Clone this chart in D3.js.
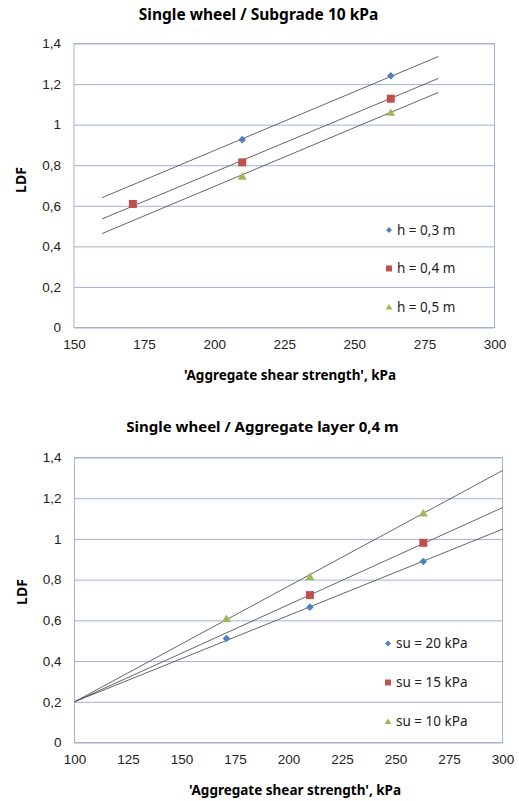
<!DOCTYPE html>
<html>
<head>
<meta charset="utf-8">
<script src="https://cdn.jsdelivr.net/npm/d3@7"></script>
<style>
  body { margin: 0; background: #fff; }
  svg { display: block; font-family: "Noto Sans", "Open Sans", sans-serif; }
</style>
</head>
<body>
<svg id="chart" width="519" height="801"></svg>
<script>
// top chart: single wheel, subgrade 10 kPa
const xTicksTop = [150, 175, 200, 225, 250, 275, 300];
const h03 = [[210, 0.926], [263, 1.241]];
const h04 = [[171, 0.609], [210, 0.814], [263, 1.128]];
const h05 = [[210, 0.745], [263, 1.06]];
const h03Trend = [[160, 0.64], [280, 1.336]];
const h04Trend = [[160, 0.535], [280, 1.228]];
const h05Trend = [[160, 0.463], [280, 1.159]];

// bottom chart: single wheel, aggregate layer 0,4 m
const xTicksBottom = [100, 125, 150, 175, 200, 225, 250, 275, 300];
const su20 = [[171, 0.511], [210, 0.665], [263, 0.889]];
const su15 = [[210, 0.724], [263, 0.981]];
const su10 = [[171, 0.609], [210, 0.815], [263, 1.127]];
const su20Trend = [[100, 0.2], [300, 1.048]];
const su15Trend = [[100, 0.2], [300, 1.154]];
const su10Trend = [[100, 0.2], [300, 1.336]];

const yTicks = [0, 0.2, 0.4, 0.6, 0.8, 1, 1.2, 1.4];

const blue = '#4F81BD', red = '#C0504D', green = '#9BBB59';
const gridColor = '#A3B3D1';

const fmt = d => String(+d.toFixed(1)).replace('.', ',');

function marker(shape, s) {
    if (shape === 'diamond') return `M0,${-s}L${s},0L0,${s}L${-s},0Z`;
    if (shape === 'square') return `M${-s},${-s}H${s}V${s}H${-s}Z`;
    return `M0,${-s}L${s * 1.15},${s * 0.85}H${-s * 1.15}Z`;
}

const svg = d3.select('#chart');

function drawChart(cfg) {
    const g = svg.append('g');

    const x = d3.scaleLinear().domain(cfg.xDomain).range([cfg.left, cfg.right]);
    const y = d3.scaleLinear().domain([0, 1.4]).range([cfg.bottom, cfg.top]);

    // gridlines + y labels
    g.append('g')
        .attr('transform', `translate(${cfg.left},0)`)
        .call(d3.axisLeft(y).tickValues(yTicks).tickSize(-(cfg.right - cfg.left)).tickFormat(fmt).tickPadding(13))
        .call(a => a.select('.domain').remove())
        .call(a => a.selectAll('line').attr('stroke', gridColor).attr('stroke-width', 1))
        .call(a => a.selectAll('text').attr('fill', '#222').attr('font-size', 13.5).attr('font-family', null));

    g.append('g')
        .attr('transform', `translate(0,${cfg.bottom})`)
        .call(d3.axisBottom(x).tickValues(cfg.xTicks).tickSize(0).tickPadding(12))
        .call(a => a.select('.domain').remove())
        .call(a => a.selectAll('text').attr('fill', '#222').attr('font-size', 13.5).attr('font-family', null));

    g.append('rect')
        .attr('x', cfg.left).attr('y', cfg.top)
        .attr('width', cfg.right - cfg.left).attr('height', cfg.bottom - cfg.top)
        .attr('fill', 'none').attr('stroke', gridColor);

    const line = d3.line().x(d => x(d[0])).y(d => y(d[1]));

    cfg.series.forEach(s => {
        g.append('path')
            .datum(s.trend)
            .attr('d', line)
            .attr('fill', 'none')
            .attr('stroke', '#555')
            .attr('stroke-width', 0.9);
    });

    cfg.series.forEach(s => {
        g.selectAll(null)
            .data(s.points)
            .join('path')
            .attr('transform', d => `translate(${x(d[0])},${y(d[1])})`)
            .attr('d', marker(s.shape, s.shape === 'diamond' ? 3.8 : 4))
            .attr('fill', s.color);
    });

    // legend
    cfg.series.forEach((s, i) => {
        const ly = cfg.legendY + i * cfg.legendStep;
        g.append('path')
            .attr('transform', `translate(${cfg.legendX},${ly})`)
            .attr('d', marker(s.shape, 3))
            .attr('fill', s.color);
        g.append('text')
            .attr('x', cfg.legendX + 8).attr('y', ly)
            .attr('dy', '0.35em')
            .attr('font-size', 13.5)
            .attr('fill', '#222')
            .text(s.name);
    });

    g.append('text')
        .attr('x', cfg.titleX).attr('y', cfg.titleY)
        .attr('text-anchor', 'middle')
        .attr('font-size', cfg.titleSize).attr('font-weight', 'bold')
        .text(cfg.title);

    g.append('text')
        .attr('x', cfg.xTitleX).attr('y', cfg.xTitleY)
        .attr('text-anchor', 'middle')
        .attr('font-size', 13.5).attr('font-weight', 'bold')
        .text("'Aggregate shear strength', kPa");

    g.append('text')
        .attr('transform', `translate(${cfg.yTitleX},${cfg.yTitleY}) rotate(-90)`)
        .attr('text-anchor', 'middle')
        .attr('font-size', 14).attr('font-weight', 'bold')
        .text('LDF');
}

drawChart({
    title: 'Single wheel / Subgrade 10 kPa', titleSize: 15.5,
    titleX: 258.5, titleY: 20,
    xDomain: [150, 300], xTicks: xTicksTop,
    left: 74, right: 494.5, top: 43.5, bottom: 327.5,
    xTitleX: 290, xTitleY: 380, yTitleX: 26, yTitleY: 180,
    legendX: 389, legendY: 230, legendStep: 38.5,
    series: [
        { name: 'h = 0,3 m', points: h03, trend: h03Trend, color: blue, shape: 'diamond' },
        { name: 'h = 0,4 m', points: h04, trend: h04Trend, color: red, shape: 'square' },
        { name: 'h = 0,5 m', points: h05, trend: h05Trend, color: green, shape: 'triangle' }
    ]
});

drawChart({
    title: 'Single wheel / Aggregate layer 0,4 m', titleSize: 15,
    titleX: 262.5, titleY: 432,
    xDomain: [100, 300], xTicks: xTicksBottom,
    left: 74.5, right: 502.5, top: 457.5, bottom: 742.5,
    xTitleX: 295, xTitleY: 795, yTitleX: 27, yTitleY: 592,
    legendX: 388, legendY: 643.5, legendStep: 39,
    series: [
        { name: 'su = 20 kPa', points: su20, trend: su20Trend, color: blue, shape: 'diamond' },
        { name: 'su = 15 kPa', points: su15, trend: su15Trend, color: red, shape: 'square' },
        { name: 'su = 10 kPa', points: su10, trend: su10Trend, color: green, shape: 'triangle' }
    ]
});
</script>
</body>
</html>
